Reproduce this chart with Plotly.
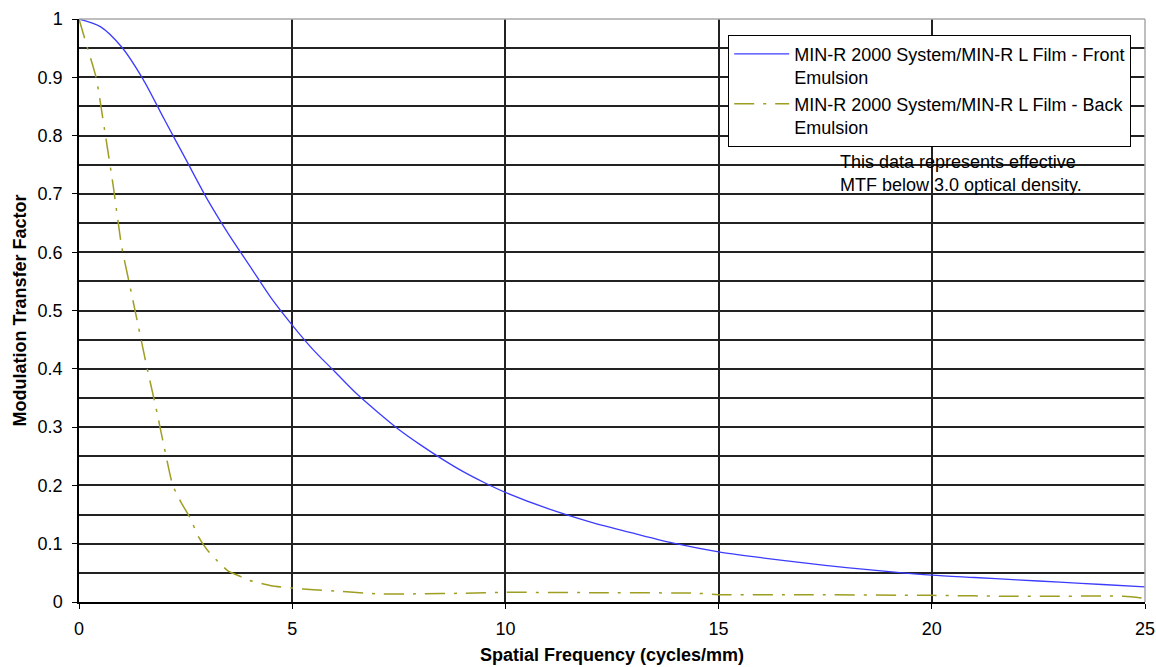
import plotly.graph_objects as go

# Front emulsion (blue, solid)
front_x = [0, 0.5, 1.0, 1.5, 2.0, 2.5, 3.0, 3.5, 4.0, 4.5, 5.0, 5.5, 6.0, 6.5, 7.0, 7.5,
           8.0, 8.5, 9.0, 9.5, 10, 11, 12, 13, 14, 15, 16, 17, 18, 19, 20, 21, 22, 23, 24, 25]
front_y = [1.0, 0.987, 0.952, 0.897, 0.828, 0.760, 0.692, 0.632, 0.577, 0.522, 0.475, 0.432,
           0.395, 0.358, 0.326, 0.296, 0.270, 0.246, 0.224, 0.205, 0.188, 0.160, 0.137, 0.118,
           0.100, 0.086, 0.076, 0.067, 0.059, 0.052, 0.046, 0.042, 0.038, 0.034, 0.030, 0.026]

# Back emulsion (olive, dash-dot)
back_x = [0, 0.2, 0.4, 0.6, 0.8, 1.0, 1.2, 1.4, 1.6, 1.8, 2.0, 2.2, 2.4, 2.6, 2.8, 3.0,
          3.25, 3.5, 3.75, 4.0, 4.5, 5.0, 5.5, 6.0, 7.0, 8.0, 9.0, 10, 12, 14.5, 15, 17,
          20, 22, 24.5, 25]
back_y = [1.0, 0.95, 0.90, 0.81, 0.715, 0.61, 0.54, 0.47, 0.40, 0.335, 0.265, 0.20, 0.17,
          0.145, 0.112, 0.090, 0.070, 0.053, 0.045, 0.037, 0.028, 0.024, 0.021, 0.019, 0.014,
          0.014, 0.015, 0.0165, 0.016, 0.015, 0.0125, 0.0125, 0.0114, 0.0097, 0.0097, 0.006]

front_name = "MIN-R 2000 System/MIN-R L Film - Front<br>Emulsion"
back_name = "MIN-R 2000 System/MIN-R L Film - Back<br>Emulsion"
note_text = "This data represents effective<br>MTF below 3.0 optical density."
x_title = "<b>Spatial Frequency (cycles/mm)</b>"
y_title = "<b>Modulation Transfer Factor</b>"

FONT = "Liberation Sans, Arial, sans-serif"

fig = go.Figure()
fig.add_trace(go.Scatter(x=front_x, y=front_y, mode="lines", name=front_name,
                         line=dict(color="#3c3cff", width=1.3, shape="spline", smoothing=0.8)))
fig.add_trace(go.Scatter(x=back_x, y=back_y, mode="lines", name=back_name,
                         line=dict(color="#9e9e22", width=1.5, dash="20px,9px,3px,9px",
                                   shape="spline", smoothing=0.6)))

fig.update_layout(
    width=1156, height=667,
    margin=dict(l=79, r=11, t=19, b=65, autoexpand=False),
    paper_bgcolor="white", plot_bgcolor="white",
    font=dict(family=FONT, size=18, color="black"),
    showlegend=True,
    legend=dict(x=0.609, y=0.973, xanchor="left", yanchor="top",
                bgcolor="white", bordercolor="black", borderwidth=1,
                font=dict(family=FONT, size=18, color="black"),
                valign="top", tracegroupgap=0, itemwidth=55),
    xaxis=dict(range=[0, 25], dtick=5, tick0=0, showgrid=True, gridcolor="#222",
               gridwidth=1.5, zeroline=False, showline=True, linecolor="black",
               linewidth=1.5, ticks="outside", ticklen=5, tickcolor="black",
               ticklabelstandoff=5, automargin=False, ticklabeloverflow="allow",
               title=dict(text=x_title, font=dict(family=FONT, size=18), standoff=10)),
    yaxis=dict(range=[0, 1], dtick=0.1, tick0=0, showgrid=True, gridcolor="#222",
               gridwidth=1.5, zeroline=False, showline=True, linecolor="black",
               linewidth=1.5, ticks="outside", ticklen=5, tickcolor="black",
               ticklabelstandoff=6, automargin=False,
               minor=dict(dtick=0.05, tick0=0, showgrid=True, gridcolor="#222",
                          gridwidth=1.5, ticks=""),
               title=dict(text=y_title, font=dict(family=FONT, size=18), standoff=6)),
    shapes=[
        dict(type="line", xref="paper", yref="paper", x0=0, x1=1, y0=1, y1=1,
             line=dict(color="#a8a8a8", width=1.5), layer="above"),
        dict(type="line", xref="paper", yref="paper", x0=1, x1=1, y0=0, y1=1,
             line=dict(color="#a8a8a8", width=1.5), layer="above"),
    ],
    annotations=[
        dict(text=note_text, xref="paper", yref="paper", x=0.712, y=0.775,
             xanchor="left", yanchor="top", align="left", showarrow=False,
             font=dict(family=FONT, size=18, color="black")),
    ],
)

fig.write_html(
    "out.html",
    config={"displayModeBar": False},
    post_script="document.body.style.margin='0';document.body.style.overflow='hidden';",
)
